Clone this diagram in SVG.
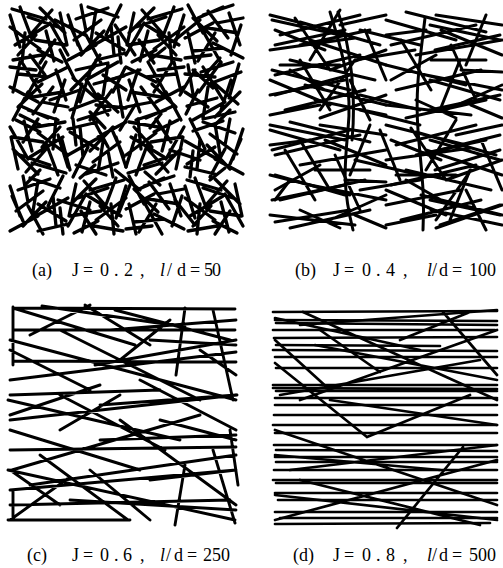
<svg xmlns="http://www.w3.org/2000/svg" xmlns:xlink="http://www.w3.org/1999/xlink" width="503" height="568" viewBox="0 0 503 568">
<style>
.fa{fill:none;stroke:#000;stroke-width:3.3;stroke-linecap:round}
.fb{fill:none;stroke:#000;stroke-width:3;stroke-linecap:round}
.fc{fill:none;stroke:#000;stroke-width:2.9;stroke-linecap:round}
.fd{fill:none;stroke:#000;stroke-width:2.7;stroke-linecap:round}
.lb{font-family:"Liberation Serif","Times New Roman",serif;font-size:18px;fill:#000}
</style>
<defs>
<path id="ta" class="fa" d="M2 4L36 14M10 2L22 34M30 3L55 28M42 5L20 30M0 22L30 44M5 40L38 20M40 18L58 50M25 35L56 40M3 55L32 50M15 28L12 58M45 35L30 58M50 8L57 40M28 45L52 57M0 10L10 42M18 12L48 22M36 26L44 56M8 50L26 30"/>
<path id="tb" class="fa" d="M0 5L30 20M22 0L40 32M45 2L28 30M50 12L20 15M5 30L35 35M3 18L14 50M30 40L58 25M40 30L55 58M10 58L40 48M32 8L58 5M12 8L2 38M26 22L50 45M45 45L20 56M0 45L26 40M55 30L48 0M15 25L35 52"/>
<path id="tc" class="fb" d="M0 5L80 25M10 25L90 5M30 12L110 35M0 40L85 28M20 50L105 70M5 65L90 45M40 30L116 55M0 85L75 70M15 100L95 80M35 75L116 95M50 108L116 85M0 70L60 95M60 60L116 40M25 8L60 60M70 0L40 50M80 70L100 110M5 20L55 40M45 90L116 105M0 105L50 95M70 15L116 5M10 55L70 55M85 50L50 100M95 20L116 70M30 35L100 20M55 80L20 60"/>
<path id="td" class="fb" d="M0 10L70 30M20 2L100 22M50 5L116 15M5 35L90 15M30 45L116 30M0 55L80 75M10 80L95 60M40 65L116 80M0 95L85 105M20 108L100 90M60 100L116 75M15 30L45 80M65 35L90 90M100 5L80 55M0 25L40 20M75 60L116 62M5 70L50 45M55 20L116 45M30 90L70 108M85 95L116 108M45 50L100 50"/>
</defs>

<g id="panel-a">
<use xlink:href="#ta" transform="translate(10 5)"/>
<use xlink:href="#tb" transform="translate(68 5) rotate(90 29 29)"/>
<use xlink:href="#ta" transform="translate(126 5) scale(-1 1) translate(-58 0)"/>
<use xlink:href="#tb" transform="translate(185 5) rotate(180 29 29)"/>
<use xlink:href="#tb" transform="translate(10 62) scale(-1 1) translate(-58 0)"/>
<use xlink:href="#ta" transform="translate(68 62) rotate(270 29 29)"/>
<use xlink:href="#tb" transform="translate(126 62)"/>
<use xlink:href="#ta" transform="translate(185 62) rotate(90 29 29)"/>
<use xlink:href="#ta" transform="translate(10 119) rotate(180 29 29)"/>
<use xlink:href="#tb" transform="translate(68 119) rotate(270 29 29)"/>
<use xlink:href="#ta" transform="translate(126 119) scale(1 -1) translate(0 -58)"/>
<use xlink:href="#tb" transform="translate(185 119) scale(-1 1) translate(-58 0) rotate(90 29 29)"/>
<use xlink:href="#tb" transform="translate(10 176) rotate(90 29 29)"/>
<use xlink:href="#ta" transform="translate(68 176) scale(-1 1) translate(-58 0)"/>
<use xlink:href="#tb" transform="translate(126 176) rotate(180 29 29)"/>
<use xlink:href="#ta" transform="translate(185 176)"/>
<path class="fa" d="M55 20L85 35M60 50L75 80M50 100L80 90M62 140L70 170M58 200L90 210M115 25L135 55M110 80L140 70M120 130L135 105M115 170L140 190M118 215L130 185M175 40L200 20M180 95L195 70M170 150L200 160M175 200L195 225M30 55L45 75M100 55L90 70M150 60L165 48M220 58L205 75M20 115L40 125M90 112L105 128M160 115L150 128M230 110L215 125M40 170L25 185M80 178L95 165M145 172L160 185M225 168L210 180"/>
</g>

<g id="panel-b">
<use xlink:href="#tc" transform="translate(270 10)"/>
<use xlink:href="#td" transform="translate(386 10)"/>
<use xlink:href="#td" transform="translate(270 120)"/>
<use xlink:href="#tc" transform="translate(386 120)"/>
<path class="fb" d="M330 12C345 60 352 90 348 130S343 190 353 230M338 12C352 50 356 100 352 140M425 18C420 60 415 90 418 130S425 190 423 230M300 140L330 190M460 60L440 110M290 180L275 200M360 110L420 125M440 150L500 135"/>
<path class="fb" d="M272 20L340 35M275 45L345 30M272 70L350 90M275 95L350 75M270 125L345 140M272 150L350 130M275 175L345 195M272 200L345 185M275 222L350 210M360 30L420 45M355 60L415 50M360 95L420 110M355 160L420 175M360 190L420 180M430 25L500 40M435 50L500 35M430 80L500 100M430 110L500 95M430 140L500 160M435 170L500 150M430 200L500 215M440 225L500 205M300 60L330 110M380 130L400 180M470 170L450 220"/>
</g>

<g id="panel-c">
<path class="fc" d="M13 308L235 309M13 307L13 365M13 308L135 345M42 306L185 327M13 330L235 330M13 361L236 362M10 380L236 352M85 305L150 345M115 310L230 340M185 308L176 375M213 310L233 400M10 395L160 390M8 400L180 440M10 420L237 395M10 450L236 447M12 470L200 415M10 490L236 470M8 470L235 520M10 505L230 500M8 520L130 520M10 520L70 477M40 455L128 520M185 465L175 525M213 450L235 523M230 430L238 485M100 405L236 395M120 395L60 430M10 340L236 400M60 330L200 400M10 430L140 470M150 480L236 470M90 470L150 520M30 485L236 455M95 365L236 340M10 415L100 385M60 395L165 450M140 380L236 430M120 420L236 505M10 350L90 390M110 330L236 320M170 320L120 360M150 340L236 345M10 470L60 505M100 440L236 435M13 490L13 520M200 350L236 375M90 305L30 335M160 420L236 440M70 500L236 510"/>
</g>

<g id="panel-d">
<path class="fd" d="M273 312L497 311M275 320L497 321M276 323L497 325M273 330L495 330M274 338L497 337M276 345L440 346M273 350L497 351M275 357L497 357M276 368L497 368M273 385L497 385M273 388L497 389M276 391L497 391M275 398L497 398M275 405L497 405M274 415L497 415M273 425L497 425M275 433L497 433M274 445L497 445M276 450L497 451M275 457L497 457M276 462L497 462M274 470L497 470M273 480L497 480M276 483L497 483M275 493L497 493M278 500L497 500M275 512L497 512M280 518L497 518M275 524L490 523"/>
<path class="fd" d="M303 312L497 400M275 318L420 350M300 325L497 310M275 363L367 437M367 437L470 395M443 312L497 375M470 312L400 340M300 400L497 330M275 430L497 505M290 470L497 445M275 520L497 460M300 480L480 525M397 528L463 447M275 455L440 470M330 400L497 425M275 495L497 520M315 345L497 380M280 395L480 360M320 330L380 372M275 340L330 390"/>
</g>

<g id="labels">
<text class="lb" y="276"><tspan x="32">(a)</tspan><tspan x="72 83 100 114 124 140">J=0.2,</tspan><tspan x="160" font-style="italic">l</tspan><tspan x="167 177 190 204 212">/d=50</tspan></text>
<text class="lb" y="276"><tspan x="295">(b)</tspan><tspan x="333 344 362 376 386 403">J=0.4,</tspan><tspan x="427" font-style="italic">l</tspan><tspan x="432 439 452 469 478 487">/d=100</tspan></text>
<text class="lb" y="561"><tspan x="27">(c)</tspan><tspan x="72 83 100 114 123 140">J=0.6,</tspan><tspan x="160" font-style="italic">l</tspan><tspan x="166 174 187 203 212 221">/d=250</tspan></text>
<text class="lb" y="561"><tspan x="293">(d)</tspan><tspan x="333 344 362 376 386 403">J=0.8,</tspan><tspan x="427" font-style="italic">l</tspan><tspan x="432 439 452 469 478 487">/d=500</tspan></text>
</g>
</svg>
